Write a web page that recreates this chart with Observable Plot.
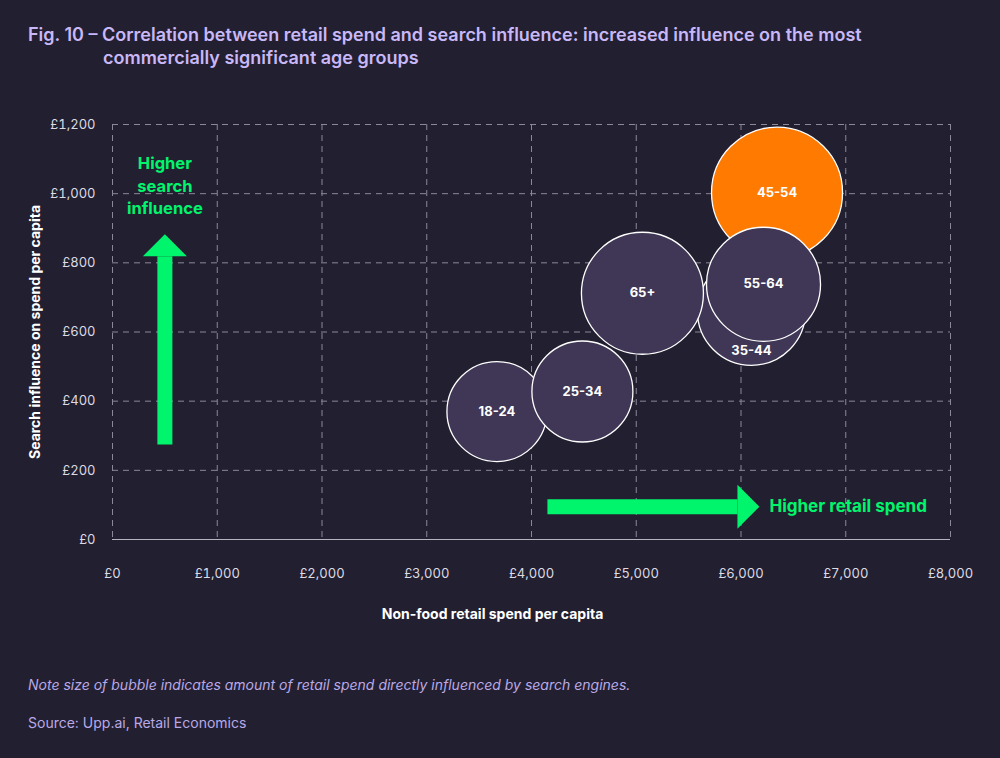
<!DOCTYPE html>
<html>
<head>
<meta charset="utf-8">
<script src="https://cdn.jsdelivr.net/npm/d3@7"></script>
<script src="https://cdn.jsdelivr.net/npm/@observablehq/plot@0.6"></script>
<style>
  html, body { margin: 0; padding: 0; background: #221f31; }
  body { width: 1000px; height: 758px; position: relative; overflow: hidden; font-family: Inter, Roboto, sans-serif; }
  #title { position: absolute; left: 28px; top: 23px; width: 960px; color: #c9b8f7; font-size: 18px; font-weight: 600; line-height: 23px; white-space: nowrap; }
  #title .l2 { padding-left: 75px; }
  #chart { position: absolute; left: 0; top: 90px; }
  #note { position: absolute; left: 28px; top: 676px; color: #b9a9e6; font-size: 14px; font-style: italic; }
  #source { position: absolute; left: 28px; top: 714px; color: #b9a9e6; font-size: 14px; }
</style>
</head>
<body>
<div id="title">Fig. 10 – Correlation between retail spend and search influence: increased influence on the most<br><span class="l2">commercially significant age groups</span></div>
<div id="chart"></div>
<div id="note">Note size of bubble indicates amount of retail spend directly influenced by search engines.</div>
<div id="source">Source: Upp.ai, Retail Economics</div>
<script>
// Age groups (draw order: back to front)
const groups   = ["18-24", "25-34", "45-54", "35-44", "65+", "55-64"];
// Non-food retail spend per capita (£)
const spend    = [3670, 4486, 6344, 6100, 5059, 6215];
// Search influence on spend per capita (£)
const influence = [370, 428, 1003, 660, 712, 738];
// Retail spend directly influenced by search engines (relative bubble size)
const influenced = [2.50, 2.55, 4.29, 2.92, 3.72, 3.25];

const xTicks = [0, 1000, 2000, 3000, 4000, 5000, 6000, 7000, 8000];
const yTicks = [0, 200, 400, 600, 800, 1000, 1200];

const xLabel = "Non-food retail spend per capita";
const yLabel = "Search influence on spend per capita";

// Annotation arrows (data coordinates)
const upArrow = {x: 500, y1: 275, y2: 819, label: ["Higher", "search", "influence"]};
const rightArrow = {y: 95, x1: 4152, x2: 5966, label: "Higher retail spend"};

const data = groups.map((g, i) => ({group: g, spend: spend[i], influence: influence[i], influenced: influenced[i]}));

const gbp = d => "£" + d3.format(",")(d);

const headUp = {draw(ctx) { ctx.moveTo(0, -22); ctx.lineTo(22, 0); ctx.lineTo(-22, 0); ctx.closePath(); }};
const headRight = {draw(ctx) { ctx.moveTo(22, 0); ctx.lineTo(0, 22); ctx.lineTo(0, -22); ctx.closePath(); }};

const green = "#00f56d";

const chart = Plot.plot({
  width: 1000,
  height: 560,
  marginTop: 34,
  marginLeft: 112,
  marginRight: 50,
  marginBottom: 111,
  style: {background: "transparent", color: "#dcdbe3", fontFamily: "Inter, Roboto, sans-serif", fontSize: "13px"},
  x: {domain: [0, 8000]},
  y: {domain: [0, 1200]},
  r: {type: "sqrt", domain: [0, 4.29], range: [0, 65.5]},
  marks: [
    Plot.gridX(xTicks, {stroke: "#8b8898", strokeOpacity: 1, strokeDasharray: "6,5"}),
    Plot.gridY(yTicks.filter(d => d > 0), {stroke: "#8b8898", strokeOpacity: 1, strokeDasharray: "6,5"}),
    Plot.ruleY([0], {stroke: "#b5b3bf", strokeWidth: 1}),
    Plot.axisX(xTicks, {tickSize: 0, tickPadding: 29, tickFormat: gbp, label: null, fontSize: 13}),
    Plot.axisY(yTicks, {tickSize: 0, tickPadding: 17, tickFormat: gbp, label: null, fontSize: 13}),
    Plot.text([xLabel], {frameAnchor: "bottom", dy: 79, dx: -39, textAnchor: "middle", fill: "white", fontSize: 14, fontWeight: 700}),
    Plot.text([yLabel], {frameAnchor: "left", rotate: -90, dx: -77, textAnchor: "middle", fill: "white", fontSize: 14, fontWeight: 700}),
    // arrows
    Plot.link([upArrow], {x1: "x", x2: "x", y1: "y1", y2: "y2", stroke: green, strokeWidth: 15, strokeLinecap: "butt"}),
    Plot.dot([upArrow], {x: "x", y: "y2", symbol: headUp, fill: green, stroke: "none", r: 10}),
    Plot.link([rightArrow], {x1: "x1", x2: "x2", y1: "y", y2: "y", stroke: green, strokeWidth: 15, strokeLinecap: "butt"}),
    Plot.dot([rightArrow], {x: "x2", y: "y", symbol: headRight, fill: green, stroke: "none", r: 10}),
    Plot.text([rightArrow], {x: "x2", y: "y", text: "label", dx: 32, textAnchor: "start", fill: green, fontSize: 17, fontWeight: 700}),
    Plot.text([upArrow], {x: "x", y: 1200, text: d => d.label.join("\n"), dy: 60, lineHeight: 1.35, fill: green, fontSize: 16.5, fontWeight: 700, lineAnchor: "middle"}),
    // bubbles (keep given draw order)
    Plot.dot(data, {x: "spend", y: "influence", r: "influenced", sort: null, fill: d => d.group === "45-54" ? "#ff7a00" : "#3f3755", fillOpacity: 1, stroke: "#ffffff", strokeWidth: 1.3}),
    Plot.text(data.filter(d => d.group !== "35-44"), {x: "spend", y: "influence", text: "group", fill: "white", fontSize: 13, fontWeight: 700}),
    Plot.text(data.filter(d => d.group === "35-44"), {x: "spend", y: "influence", text: "group", fill: "white", fontSize: 13, fontWeight: 700, dy: 40})
  ]
});
document.getElementById("chart").appendChild(chart);
</script>
</body>
</html>
